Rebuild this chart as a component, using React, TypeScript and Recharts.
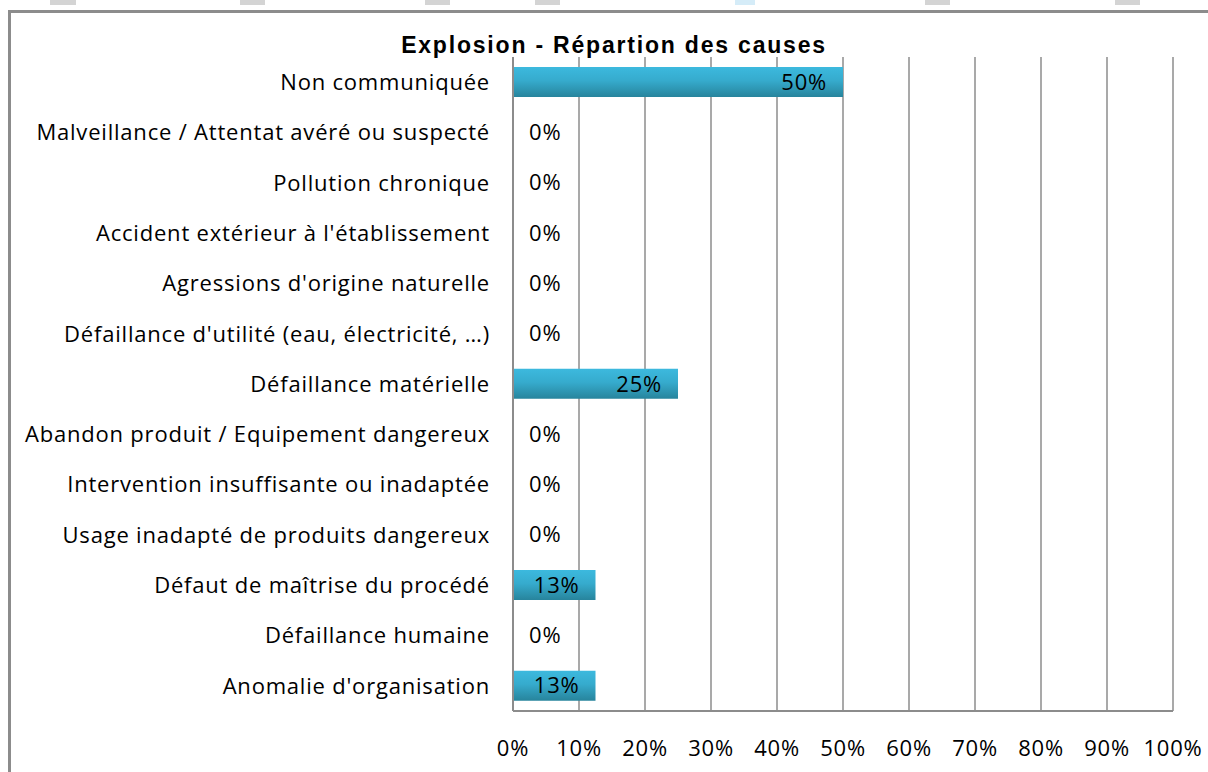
import { BarChart, Bar, XAxis, YAxis, CartesianGrid, Rectangle } from "recharts";

const categories = [
  "Non communiquée",
  "Malveillance / Attentat avéré ou suspecté",
  "Pollution chronique",
  "Accident extérieur à l'établissement",
  "Agressions d'origine naturelle",
  "Défaillance d'utilité (eau, électricité, …)",
  "Défaillance matérielle",
  "Abandon produit / Equipement dangereux",
  "Intervention insuffisante ou inadaptée",
  "Usage inadapté de produits dangereux",
  "Défaut de maîtrise du procédé",
  "Défaillance humaine",
  "Anomalie d'organisation",
];

const shares = [50, 0, 0, 0, 0, 0, 25, 0, 0, 0, 12.5, 0, 12.5];

const xTicks = [0, 10, 20, 30, 40, 50, 60, 70, 80, 90, 100];

// little grey blocks peeking above the frame (spreadsheet cells)
const topBlocks = [
  { x: 50, w: 26, c: "#d4d4d4" },
  { x: 240, w: 25, c: "#d4d4d4" },
  { x: 425, w: 25, c: "#d4d4d4" },
  { x: 535, w: 25, c: "#d4d4d4" },
  { x: 735, w: 20, c: "#d5ecf8" },
  { x: 925, w: 25, c: "#d4d4d4" },
  { x: 1115, w: 25, c: "#d4d4d4" },
];

const data = categories.map((name, i) => ({ name, value: shares[i] }));

const FONT = "'Open Sans', sans-serif";
const textStyle = { letterSpacing: 0.8 };

// bar + its value label; zero bars still get a "0%" label
function BarWithLabel(props: any) {
  const { x, y, width, height, value } = props;
  const v = Array.isArray(value) ? value[1] - value[0] : value;
  const text = Math.round(v) + "%";
  const cy = y + height / 2;
  const small = width < 60;
  return (
    <g>
      {width > 0 && <Rectangle x={x} y={y} width={width} height={height} fill="url(#barGrad)" />}
      <text
        x={small ? x + 16 : x + width - 16}
        y={cy}
        dy="0.35em"
        textAnchor={small ? "start" : "end"}
        fontSize={22}
        fontFamily={FONT}
        fill="#000"
        style={textStyle}
      >
        {text}
      </text>
    </g>
  );
}

export default function App() {
  return (
    <div style={{ position: "fixed", left: 0, top: 0, width: 1208, height: 772, background: "#fff", overflow: "hidden" }}>
      {topBlocks.map((b, i) => (
        <div key={i} style={{ position: "absolute", left: b.x, top: 0, width: b.w, height: 5, background: b.c }} />
      ))}
      <div
        style={{
          position: "absolute",
          left: 8,
          top: 10,
          width: 1300,
          height: 900,
          borderTop: "3px solid #8c8c8c",
          borderLeft: "3px solid #8c8c8c",
        }}
      />
      <div
        style={{
          position: "absolute",
          left: 0,
          width: 1228,
          top: 31,
          textAlign: "center",
          fontFamily: "'Liberation Sans', Arial, sans-serif",
          fontWeight: "bold",
          fontSize: 23,
          letterSpacing: 1.8,
          lineHeight: "28px",
          color: "#000",
          zIndex: 2,
        }}
      >
        Explosion - Répartion des causes
      </div>
      <div style={{ position: "absolute", left: 0, top: 0 }}>
        <BarChart
          layout="vertical"
          width={1208}
          height={772}
          data={data}
          margin={{ top: 57, right: 35, bottom: 0, left: 0 }}
        >
          <defs>
            <linearGradient id="barGrad" x1="0" y1="0" x2="0" y2="1">
              <stop offset="0%" stopColor="#3cb9de" />
              <stop offset="45%" stopColor="#36abcd" />
              <stop offset="100%" stopColor="#27849c" />
            </linearGradient>
          </defs>
          <CartesianGrid horizontal={false} stroke="#8c8c8c" strokeWidth={1.5} />
          <XAxis
            type="number"
            domain={[0, 100]}
            ticks={xTicks}
            tickFormatter={(v) => v + "%"}
            height={61}
            axisLine={{ stroke: "#8c8c8c", strokeWidth: 2 }}
            tickLine={false}
            tickMargin={23}
            tick={{ fill: "#000", fontSize: 22, fontFamily: FONT, style: textStyle }}
            interval={0}
          />
          <YAxis
            type="category"
            dataKey="name"
            width={513}
            axisLine={{ stroke: "#8c8c8c", strokeWidth: 2 }}
            tickLine={false}
            tickMargin={17}
            tick={{ fill: "#000", fontSize: 22, fontFamily: FONT, style: textStyle }}
            interval={0}
          />
          <Bar dataKey="value" barSize={30} shape={BarWithLabel} isAnimationActive={false} />
        </BarChart>
      </div>
    </div>
  );
}
